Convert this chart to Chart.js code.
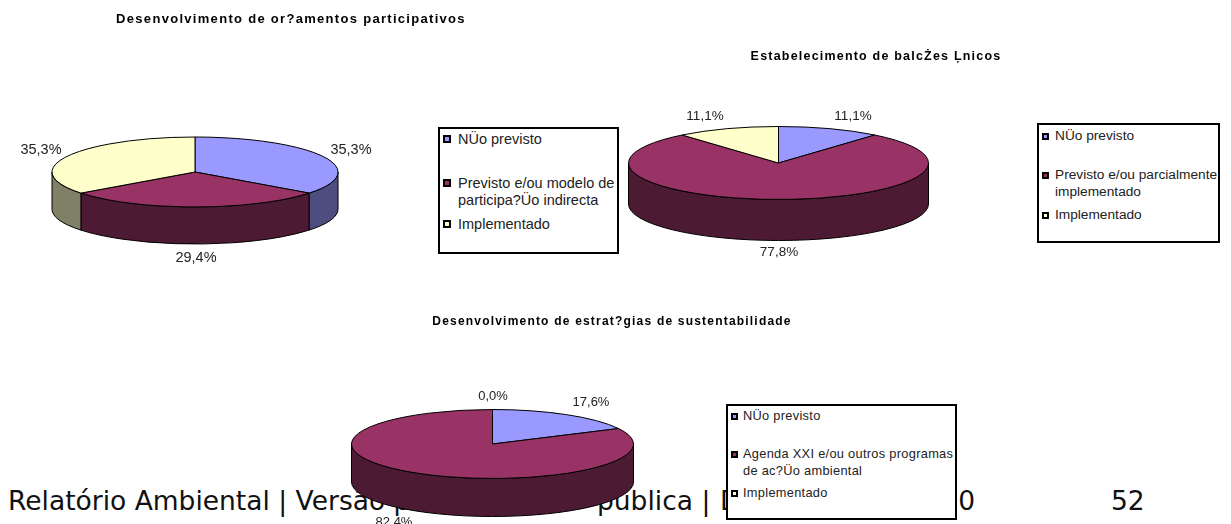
<!DOCTYPE html>
<html><head><meta charset="utf-8">
<script src="https://cdn.jsdelivr.net/npm/chart.js@4"></script>
<style>
html,body{margin:0;padding:0;background:#fff;overflow:hidden}
body{position:relative;width:1231px;height:524px}
canvas{position:absolute}
.foot{position:absolute;font:26.5px "DejaVu Sans";color:#111;white-space:pre;line-height:30px}
.lg{position:absolute;box-sizing:border-box;border:2px solid #000;background:#fff;font-family:"Liberation Sans";color:#222}
.lg div{position:absolute;white-space:pre}
.lg i{position:absolute;box-sizing:border-box;border:2px solid #000}
</style></head><body>
<div class="foot" style="left:8px;top:486px">Relatório Ambiental | Versão para consulta</div>
<div class="foot" style="left:597px;top:486px">pública |</div>
<div class="foot" style="left:720px;top:486px">Dezembro</div>
<div class="foot" style="right:256px;top:486px">2010</div>
<div class="foot" style="left:1111px;top:486px">52</div>
<canvas id="c1" width="582" height="290" style="left:0;top:0;width:582px;height:290px"></canvas>
<canvas id="c2" width="710" height="290" style="left:521px;top:0;width:710px;height:290px"></canvas>
<canvas id="c3" width="1224" height="524" style="left:0;top:0;width:1224px;height:524px"></canvas>
<script>
const title1 = "Desenvolvimento de or?amentos participativos";
const title2 = "Estabelecimento de balcŻes Ļnicos";
const title3 = "Desenvolvimento de estrat?gias de sustentabilidade";
const labels1 = ["NÜo previsto", "Previsto e/ou modelo de\nparticipa?Üo indirecta", "Implementado"];
const labels2 = ["NÜo previsto", "Previsto e/ou parcialmente\nimplementado", "Implementado"];
const labels3 = ["NÜo previsto", "Agenda XXI e/ou outros programas\nde ac?Üo ambiental", "Implementado"];
const values1 = [35.3, 29.4, 35.3];
const values2 = [11.1, 77.8, 11.1];
const values3 = [17.6, 82.4, 0.0];
const topColors = ["#9999FF", "#993366", "#FFFFCC"];
const sideColors = ["#4D4D80", "#4D1A33", "#808066"];

const pie3d = {
  id: 'pie3d',
  beforeDraw(chart){ chart.ctx.letterSpacing = chart.options.plugins.pie3d.spacing; },
  beforeDatasetsDraw(chart, args, o){
    const ctx = chart.ctx, meta = chart.getDatasetMeta(0);
    ctx.save();
    ctx.letterSpacing = '0px';
    // wall, clipped to the front half of the ellipse
    meta.data.forEach((arc, i) => {
      const a = Math.max(arc.startAngle, 0), b = Math.min(arc.endAngle, Math.PI);
      if (b <= a) return;
      ctx.beginPath();
      ctx.ellipse(o.cx, o.cy, o.rx, o.ry, 0, a, b);
      ctx.ellipse(o.cx, o.cy + o.depth, o.rx, o.ry, 0, b, a, true);
      ctx.closePath();
      ctx.fillStyle = sideColors[i]; ctx.fill();
      ctx.lineWidth = 1; ctx.strokeStyle = '#000'; ctx.stroke();
    });
    // top face
    meta.data.forEach((arc, i) => {
      if (arc.endAngle - arc.startAngle <= 0) return;
      ctx.beginPath();
      ctx.moveTo(o.cx, o.cy);
      ctx.ellipse(o.cx, o.cy, o.rx, o.ry, 0, arc.startAngle, arc.endAngle);
      ctx.closePath();
      ctx.fillStyle = topColors[i]; ctx.fill();
      ctx.lineWidth = 1; ctx.strokeStyle = '#000'; ctx.stroke();
    });
    // percentage labels
    ctx.font = o.labelFont; ctx.fillStyle = '#222';
    ctx.textAlign = 'center'; ctx.textBaseline = 'middle';
    chart.data.datasets[0].data.forEach((v, i) => {
      ctx.fillText(v.toFixed(1).replace('.', ',') + '%', o.lx[i], o.ly[i]);
    });
    ctx.restore();
    return false;
  }
};

function makePie(id, title, labels, values, titleSize, titleTop, spacing, geom){
  return new Chart(document.getElementById(id), {
    type: 'pie',
    data: { labels, datasets: [{ data: values, backgroundColor: topColors, borderColor: '#000', borderWidth: 1 }] },
    options: {
      responsive: false, animation: false, events: [],
      layout: { padding: 0 },
      plugins: {
        legend: { display: false }, tooltip: { enabled: false },
        title: { display: true, text: title, color: '#000', align: 'center',
                 font: { family: 'Liberation Sans', weight: 'bold', size: titleSize },
                 padding: { top: titleTop, bottom: 0 } },
        pie3d: Object.assign({ spacing }, geom)
      }
    },
    plugins: [pie3d]
  });
}

makePie('c1', title1, labels1, values1, 13, 12, '1.3px',
  { cx:195, cy:172, rx:143, ry:35, depth:37, labelFont:'14.5px "Liberation Sans"', lx:[351,196,41], ly:[150,258,150] });
makePie('c2', title2, labels2, values2, 12.5, 49, '1.2px',
  { cx:257.5, cy:163, rx:150, ry:36.5, depth:41, labelFont:'13.5px "Liberation Sans"', lx:[332,258,184], ly:[116,252,116] });
makePie('c3', title3, labels3, values3, 12, 314, '1.2px',
  { cx:492.5, cy:444, rx:141, ry:34.5, depth:38, labelFont:'13px "Liberation Sans"', lx:[591,394,493], ly:[402,522,396] });

const legends = [
  { labels: labels1, box:[438,127,181,127], size:14.5, sp:0, tx:458, mx:443, ms:8, ys:[139,183,200,224] },
  { labels: labels2, box:[1037,123,183,120], size:13.7, sp:0, tx:1055, mx:1042, ms:7, ys:[136,175,192,215] },
  { labels: labels3, box:[726,404,231,116], size:12.8, sp:0.3, tx:743, mx:731, ms:7, ys:[416,454,471,493] }
];
legends.forEach(L => {
  const d = document.createElement('div'); d.className = 'lg';
  const [x,y,w,h] = L.box;
  d.style.cssText = `left:${x}px;top:${y}px;width:${w}px;height:${h}px;font-size:${L.size}px;letter-spacing:${L.sp}px`;
  let row = 0;
  L.labels.forEach((t, i) => {
    const m = document.createElement('i');
    m.style.cssText = `left:${L.mx-x-2}px;top:${L.ys[row]-y-2-L.ms/2}px;width:${L.ms}px;height:${L.ms}px;background:${topColors[i]}`;
    d.appendChild(m);
    t.split('\n').forEach(line => {
      const s = document.createElement('div');
      s.textContent = line;
      s.style.cssText = `left:${L.tx-x-2}px;top:${L.ys[row]-y-2-10}px;line-height:20px`;
      d.appendChild(s); row++;
    });
  });
  document.body.appendChild(d);
});
</script>
</body></html>
